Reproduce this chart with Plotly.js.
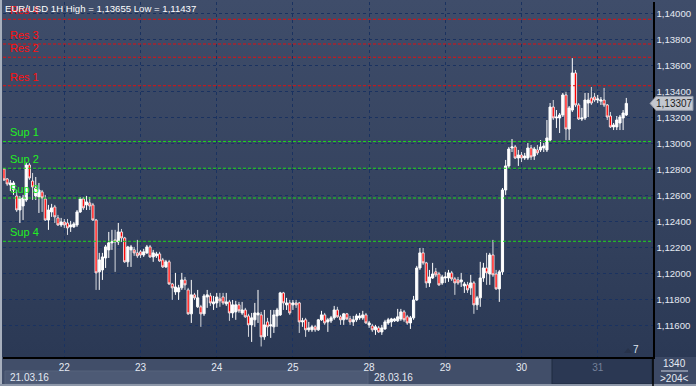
<!DOCTYPE html>
<html>
<head>
<meta charset="utf-8">
<script src="https://cdn.plot.ly/plotly-3.0.1.min.js"></script>
<style>
html,body{margin:0;padding:0;background:#2c3a56;}
#chart{width:696px;height:386px;background:linear-gradient(to bottom,#3f4d6a 0%,#35435f 50%,#2b3955 92%,#2b3955 100%);}
</style>
</head>
<body>
<div id="chart"></div>
<script>
// ---- data (EUR/USD, 1H bars, 21.03.16 – 31.03.16) ----
const dayLabels = ['22','23','24','25','28','29','30','31'];
const dayStartIdx = [19,43,67,91,115,139,163,187];
const priceTicks = [1.116,1.118,1.120,1.122,1.124,1.126,1.128,1.130,1.132,1.134,1.136,1.138,1.140];

const openP = [
1.12803,1.12726,1.12680,1.12641,1.12595,1.12487,1.12518,1.12564,1.12833,1.12710,
1.12595,1.12587,1.12626,1.12572,1.12410,1.12472,1.12510,1.12426,1.12372,1.12395,
1.12387,1.12357,1.12357,1.12372,1.12472,1.12572,1.12526,1.12541,1.12526,1.12410,
1.12011,1.12026,1.12118,1.12180,1.12234,1.12257,1.12241,1.12318,1.12272,1.12088,
1.12180,1.12180,1.12157,1.12165,1.12141,1.12157,1.12203,1.12126,1.12134,1.12149,
1.12103,1.12049,1.12088,1.11918,1.11857,1.11857,1.11888,1.11949,1.11872,1.11688,
1.11834,1.11742,1.11742,1.11688,1.11818,1.11826,1.11765,1.11772,1.11803,1.11818,
1.11765,1.11780,1.11695,1.11703,1.11757,1.11695,1.11718,1.11672,1.11603,1.11642,
1.11680,1.11680,1.11511,1.11626,1.11595,1.11588,1.11672,1.11680,1.11849,1.11757,
1.11772,1.11757,1.11772,1.11772,1.11626,1.11642,1.11565,1.11565,1.11588,1.11565,
1.11642,1.11680,1.11626,1.11634,1.11657,1.11718,1.11665,1.11642,1.11688,1.11649,
1.11626,1.11642,1.11657,1.11657,1.11680,1.11603,1.11595,1.11565,1.11580,1.11549,
1.11572,1.11618,1.11626,1.11634,1.11634,1.11649,1.11703,1.11665,1.11618,1.11657,
1.11795,1.12041,1.12157,1.12080,1.11926,1.11964,1.12011,1.11995,1.11926,1.11964,
1.11964,1.12003,1.11957,1.11949,1.11934,1.11903,1.11911,1.11888,1.11926,1.11757,
1.11811,1.11964,1.12041,1.11995,1.12141,1.11995,1.11880,1.12011,1.12641,1.12826,
1.12964,1.12972,1.12887,1.12910,1.12887,1.12887,1.12964,1.12902,1.12949,1.12949,
1.12964,1.12949,1.13025,1.13279,1.13195,1.13195,1.13218,1.13372,1.13110,1.13256,
1.13541,1.13295,1.13187,1.13195,1.13310,1.13349,1.13356,1.13333,1.13325,1.13333,
1.13295,1.13210,1.13126,1.13126,1.13156,1.13195,1.13218];

const highP = [
1.12810,1.12733,1.12718,1.12710,1.12641,1.12595,1.12603,1.12849,1.12849,1.12772,
1.12741,1.12695,1.12641,1.12603,1.12526,1.12534,1.12526,1.12449,1.12426,1.12418,
1.12418,1.12403,1.12395,1.12487,1.12587,1.12587,1.12595,1.12587,1.12541,1.12418,
1.12157,1.12157,1.12218,1.12318,1.12334,1.12334,1.12387,1.12341,1.12280,1.12211,
1.12218,1.12203,1.12257,1.12180,1.12188,1.12218,1.12218,1.12180,1.12165,1.12165,
1.12118,1.12103,1.12103,1.11926,1.12003,1.11911,1.12003,1.11972,1.11888,1.11949,
1.11849,1.11872,1.11757,1.11841,1.11872,1.11849,1.11826,1.11849,1.11849,1.11849,
1.11849,1.11795,1.11795,1.11788,1.11780,1.11780,1.11734,1.11688,1.11695,1.11772,
1.11872,1.11703,1.11718,1.11657,1.11718,1.11718,1.11734,1.11857,1.11857,1.11811,
1.11795,1.11795,1.11795,1.11780,1.11657,1.11657,1.11626,1.11603,1.11603,1.11649,
1.11711,1.11695,1.11657,1.11672,1.11749,1.11742,1.11680,1.11695,1.11695,1.11672,
1.11672,1.11688,1.11695,1.11711,1.11695,1.11634,1.11611,1.11603,1.11595,1.11603,
1.11642,1.11657,1.11657,1.11657,1.11726,1.11726,1.11718,1.11680,1.11672,1.11826,
1.12057,1.12195,1.12195,1.12088,1.12026,1.12080,1.12041,1.12011,1.11988,1.12011,
1.12026,1.12018,1.11972,1.11972,1.12003,1.11934,1.11934,1.11988,1.11941,1.11826,
1.12088,1.12080,1.12157,1.12157,1.12257,1.12026,1.12026,1.12656,1.12872,1.12972,
1.13033,1.12987,1.12949,1.12933,1.12926,1.13002,1.12987,1.12972,1.12987,1.13025,
1.13002,1.13179,1.13310,1.13333,1.13256,1.13233,1.13387,1.13395,1.13287,1.13655,
1.13564,1.13310,1.13272,1.13387,1.13387,1.13433,1.13387,1.13372,1.13356,1.13426,
1.13302,1.13241,1.13156,1.13210,1.13218,1.13256,1.13349];

const lowP = [
1.12710,1.12672,1.12633,1.12603,1.12472,1.12387,1.12410,1.12549,1.12718,1.12564,
1.12564,1.12464,1.12472,1.12403,1.12334,1.12434,1.12387,1.12364,1.12357,1.12349,
1.12295,1.12318,1.12349,1.12357,1.12464,1.12487,1.12487,1.12487,1.12403,1.11872,
1.11872,1.11949,1.12041,1.12118,1.12180,1.12011,1.12218,1.12241,1.12080,1.12049,
1.12049,1.12134,1.12118,1.12118,1.12126,1.12149,1.12118,1.12088,1.12118,1.12088,
1.12041,1.12041,1.11911,1.11795,1.11834,1.11795,1.11872,1.11872,1.11680,1.11618,
1.11795,1.11734,1.11588,1.11672,1.11734,1.11749,1.11718,1.11734,1.11742,1.11757,
1.11749,1.11634,1.11657,1.11642,1.11695,1.11680,1.11657,1.11511,1.11472,1.11588,
1.11618,1.11437,1.11488,1.11518,1.11503,1.11541,1.11588,1.11672,1.11718,1.11718,
1.11680,1.11718,1.11734,1.11541,1.11588,1.11511,1.11549,1.11549,1.11549,1.11557,
1.11634,1.11603,1.11549,1.11618,1.11642,1.11657,1.11603,1.11603,1.11642,1.11603,
1.11595,1.11626,1.11642,1.11642,1.11611,1.11580,1.11549,1.11526,1.11541,1.11526,
1.11565,1.11603,1.11588,1.11626,1.11626,1.11634,1.11626,1.11603,1.11572,1.11642,
1.11788,1.12026,1.12065,1.11888,1.11895,1.11957,1.11972,1.11903,1.11911,1.11926,
1.11934,1.11941,1.11834,1.11911,1.11895,1.11849,1.11849,1.11834,1.11688,1.11718,
1.11742,1.11934,1.11911,1.11911,1.11972,1.11872,1.11780,1.11988,1.12603,1.12810,
1.12933,1.12879,1.12826,1.12856,1.12872,1.12872,1.12872,1.12872,1.12910,1.12933,
1.12933,1.12933,1.13010,1.13179,1.13118,1.13079,1.13202,1.13025,1.13025,1.13241,
1.13279,1.13179,1.13172,1.13179,1.13202,1.13295,1.13318,1.13310,1.13295,1.13279,
1.13179,1.13118,1.13102,1.13102,1.13102,1.13102,1.13210];

const closeP = [
1.12718,1.12687,1.12695,1.12695,1.12487,1.12580,1.12580,1.12833,1.12733,1.12664,
1.12656,1.12641,1.12580,1.12410,1.12487,1.12503,1.12434,1.12372,1.12395,1.12372,
1.12349,1.12372,1.12380,1.12472,1.12572,1.12503,1.12549,1.12518,1.12410,1.12003,
1.12103,1.12126,1.12203,1.12234,1.12241,1.12241,1.12318,1.12272,1.12088,1.12203,
1.12203,1.12157,1.12134,1.12141,1.12165,1.12203,1.12126,1.12157,1.12149,1.12095,
1.12049,1.12088,1.11918,1.11888,1.11895,1.11888,1.11949,1.11911,1.11688,1.11834,
1.11811,1.11811,1.11688,1.11826,1.11834,1.11772,1.11780,1.11818,1.11788,1.11772,
1.11780,1.11695,1.11757,1.11757,1.11711,1.11718,1.11665,1.11603,1.11657,1.11695,
1.11695,1.11511,1.11603,1.11588,1.11603,1.11680,1.11718,1.11849,1.11772,1.11772,
1.11695,1.11772,1.11757,1.11626,1.11634,1.11565,1.11580,1.11588,1.11565,1.11642,
1.11680,1.11618,1.11642,1.11657,1.11718,1.11665,1.11642,1.11688,1.11649,1.11626,
1.11642,1.11672,1.11672,1.11680,1.11618,1.11618,1.11565,1.11588,1.11549,1.11580,
1.11626,1.11642,1.11649,1.11649,1.11665,1.11703,1.11642,1.11618,1.11657,1.11795,
1.12041,1.12157,1.12080,1.11926,1.11972,1.11995,1.11988,1.11911,1.11972,1.11972,
1.12003,1.11957,1.11926,1.11926,1.11949,1.11918,1.11872,1.11926,1.11757,1.11811,
1.11964,1.12041,1.12003,1.12141,1.11988,1.11880,1.12011,1.12641,1.12826,1.12956,
1.12972,1.12887,1.12910,1.12887,1.12902,1.12964,1.12895,1.12956,1.12926,1.12972,
1.12979,1.13041,1.13279,1.13195,1.13202,1.13218,1.13372,1.13110,1.13272,1.13541,
1.13295,1.13187,1.13195,1.13333,1.13333,1.13310,1.13333,1.13341,1.13333,1.13295,
1.13202,1.13126,1.13141,1.13179,1.13202,1.13233,1.13307];

const resNames = ['Res 1','Res 2','Res 3','Res 4'];
const resLevels = [1.13443, 1.13662, 1.13764, 1.13954];
const supNames = ['Sup 1','Sup 2','Sup 3','Sup 4'];
const supLevels = [1.13014, 1.12808, 1.12579, 1.12246];

const symbolTitle = 'EUR/USD 1H';
const highValue = 1.13655, lowValue = 1.11437;
const startDateLabel = '21.03.16', weekDateLabel = '28.03.16';
const barCountLabel = '1340', zoomLabel = '>204<', markerLabel = '7';

// ---- helpers (decoration placement in pixels -> paper) ----
const PL = 3, PW = 650, PB = 357, PH = 355;
const px = x => (x - PL) / PW;
const py = y => (PB - y) / PH;
const fmt = v => v.toFixed(5).replace('.', ',');
const FONT = 'Liberation Sans, Arial, sans-serif';

const xIdx = closeP.map((_, i) => i);
const lastClose = closeP[closeP.length - 1];

const trace = {
  type: 'candlestick',
  x: xIdx, open: openP, high: highP, low: lowP, close: closeP,
  increasing: {line: {color: '#ffffff', width: 1}, fillcolor: '#ffffff'},
  decreasing: {line: {color: '#ffffff', width: 0.8}, fillcolor: '#ff0000'},
  whiskerwidth: 0,
  hoverinfo: 'skip',
  showlegend: false
};

const shapes = [];
const annotations = [];

// bottom bands
shapes.push({type:'rect', xref:'paper', yref:'paper', x0:px(0), x1:px(653), y0:py(357), y1:py(386), fillcolor:'#414e69', line:{width:0}, layer:'below'});
shapes.push({type:'rect', xref:'paper', yref:'paper', x0:px(5), x1:px(368), y0:py(371), y1:py(384), fillcolor:'#4d5a75', line:{color:'#56637d', width:1}, layer:'below'});
shapes.push({type:'rect', xref:'paper', yref:'paper', x0:px(552), x1:px(652), y0:py(358), y1:py(384), fillcolor:'#2b3853', line:{color:'#1f2a40', width:1}, layer:'below'});
shapes.push({type:'rect', xref:'paper', yref:'paper', x0:px(653), x1:px(696), y0:py(357), y1:py(386), fillcolor:'#3c4965', line:{width:0}, layer:'below'});
// borders
shapes.push({type:'rect', xref:'paper', yref:'paper', x0:px(0), x1:px(2), y0:py(386), y1:py(0), fillcolor:'#a7afbd', line:{width:0}, layer:'above'});
shapes.push({type:'rect', xref:'paper', yref:'paper', x0:px(0), x1:px(696), y0:py(386), y1:py(384), fillcolor:'#8d97a9', line:{width:0}, layer:'above'});
shapes.push({type:'line', xref:'paper', yref:'paper', x0:1, x1:1, y0:py(357), y1:py(386), line:{color:'#000000', width:1.5}, layer:'above'});
shapes.push({type:'line', xref:'paper', yref:'paper', x0:px(661), x1:px(688), y0:py(371), y1:py(371), line:{color:'#c8d0de', width:1}, layer:'above'});

// resistance / support lines and labels
resLevels.forEach((v, k) => {
  shapes.push({type:'line', xref:'paper', yref:'y', x0:0, x1:1, y0:v, y1:v, line:{color:'#e01010', width:1, dash:'3px,2px'}, layer:'above'});
  annotations.push({xref:'paper', yref:'y', x:px(8), y:v, xanchor:'left', yanchor:'bottom', yshift:1, showarrow:false, text:resNames[k], font:{family:FONT, size:11, color:'#ff1010'}});
});
supLevels.forEach((v, k) => {
  shapes.push({type:'line', xref:'paper', yref:'y', x0:0, x1:1, y0:v, y1:v, line:{color:'#1ed81e', width:1, dash:'3px,2px'}, layer:'above'});
  annotations.push({xref:'paper', yref:'y', x:px(8), y:v, xanchor:'left', yanchor:'bottom', yshift:1, showarrow:false, text:supNames[k], font:{family:FONT, size:11, color:'#22f022'}});
});

// current price marker
const dy = 0.00054;
shapes.push({type:'path', xref:'paper', yref:'y', layer:'above',
  path:`M ${px(650)},${lastClose} L ${px(656)},${lastClose+dy} L ${px(693)},${lastClose+dy} L ${px(693)},${lastClose-dy} L ${px(656)},${lastClose-dy} Z`,
  fillcolor:'#c3c7cf', line:{color:'#8e95a3', width:1}});
annotations.push({xref:'paper', yref:'y', x:px(674.5), y:lastClose, xanchor:'center', yanchor:'middle', showarrow:false, text:fmt(lastClose), font:{family:FONT, size:10, color:'#1c1c1c'}});

// small marker near bottom right
shapes.push({type:'path', xref:'paper', yref:'paper', layer:'above',
  path:`M ${px(624)},${py(353)} L ${px(628)},${py(348)} L ${px(632)},${py(353)} Z`, fillcolor:'#27324a', line:{width:0}});
annotations.push({xref:'paper', yref:'paper', x:px(636), y:py(349), xanchor:'center', yanchor:'middle', showarrow:false, text:markerLabel, font:{family:FONT, size:10, color:'#dfe6f0'}});

// bottom texts
annotations.push({xref:'paper', yref:'paper', x:px(8), y:py(377.5), xanchor:'left', yanchor:'middle', showarrow:false, text:startDateLabel, font:{family:FONT, size:10, color:'#e4e9f2'}});
annotations.push({xref:'paper', yref:'paper', x:px(372), y:py(377.5), xanchor:'left', yanchor:'middle', showarrow:false, text:weekDateLabel, font:{family:FONT, size:10, color:'#e4e9f2'}});
annotations.push({xref:'paper', yref:'paper', x:px(674.5), y:py(363), xanchor:'center', yanchor:'middle', showarrow:false, text:barCountLabel, font:{family:FONT, size:10, color:'#e4e9f2'}});
annotations.push({xref:'paper', yref:'paper', x:px(674.5), y:py(378.5), xanchor:'center', yanchor:'middle', showarrow:false, text:zoomLabel, font:{family:FONT, size:10, color:'#e4e9f2'}});

// title (drawn last, on top, overlapping the Res 4 label as in the original)
annotations.push({xref:'paper', yref:'paper', x:px(3), y:1, xanchor:'left', yanchor:'top', yshift:1, showarrow:false,
  text:`${symbolTitle} High = ${fmt(highValue)} Low = ${fmt(lowValue)}`,
  font:{family:FONT, size:9.6, color:'#ffffff'}});

const tickText = dayLabels.map((d, k) => k === dayLabels.length - 1 ? `<span style="color:#75819a">${d}</span>` : d);

const layout = {
  width: 696, height: 386,
  margin: {l: 3, r: 43, t: 2, b: 29, pad: 0},
  paper_bgcolor: 'rgba(0,0,0,0)',
  plot_bgcolor: 'rgba(0,0,0,0)',
  separators: ', ',
  showlegend: false,
  boxgap: 0.02,
  xaxis: {
    type: 'linear',
    range: [-0.315, 204.41],
    rangeslider: {visible: false},
    tickmode: 'array', tickvals: dayStartIdx, ticktext: tickText,
    ticks: '', showgrid: true, gridcolor: '#1a3260', griddash: 'dot', gridwidth: 1,
    zeroline: false, showline: true, linecolor: '#000000', linewidth: 1.5,
    tickfont: {family: FONT, size: 10, color: '#e4e9f2'},
    fixedrange: true
  },
  yaxis: {
    side: 'right',
    range: [1.11356, 1.14087],
    tickmode: 'array', tickvals: priceTicks, tickformat: '.5f',
    ticks: '', showgrid: true, gridcolor: '#1a3260', griddash: 'dot', gridwidth: 1,
    zeroline: false, showline: true, linecolor: '#000000', linewidth: 1.5,
    tickfont: {family: FONT, size: 9.6, color: '#e4e9f2'},
    fixedrange: true
  },
  shapes: shapes,
  annotations: annotations
};

Plotly.newPlot('chart', [trace], layout, {staticPlot: true, displayModeBar: false});
</script>
</body>
</html>
